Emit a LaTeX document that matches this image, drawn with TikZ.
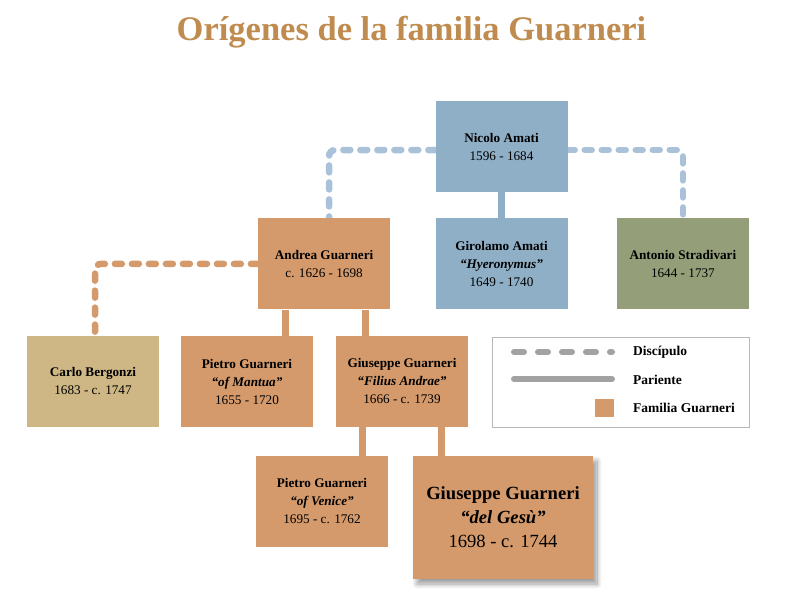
\documentclass[tikz,border=0pt]{standalone}
\usepackage{fontspec}
\setmainfont{Liberation Serif}
\usetikzlibrary{positioning,shadows.blur,backgrounds}

\definecolor{amatiblue}{HTML}{8FAFC6}
\definecolor{pupilblue}{HTML}{A9C2D9}
\definecolor{guarneriorange}{HTML}{D49A6C}
\definecolor{stradgreen}{HTML}{949E78}
\definecolor{bergonzitan}{HTML}{CEB784}
\definecolor{titlebrown}{HTML}{BF8B4E}
\definecolor{legendgray}{HTML}{A2A2A2}
\definecolor{framegray}{HTML}{B8B8B8}

\begin{document}
\begin{tikzpicture}[
    x=1pt, y=-1pt,
    box/.style={rectangle, minimum width=132pt, minimum height=91pt, align=center, inner sep=2pt, font=\fontsize{13.2}{18}\selectfont},
    amati/.style={box, fill=amatiblue},
    guarneri/.style={box, fill=guarneriorange},
    bigbox/.style={guarneri, minimum width=180pt, minimum height=123pt, font=\fontsize{18.6}{24}\selectfont,
        blur shadow={shadow xshift=4pt, shadow yshift=-5pt, shadow blur radius=5pt, shadow blur steps=10, shadow opacity=40}},
    pupil/.style={line width=6.5pt, dash pattern=on 7pt off 10pt, line cap=round, rounded corners=6pt},
    kin/.style={line width=7pt},
    legendtext/.style={anchor=west, inner sep=0pt, font=\fontsize{13.5}{15}\selectfont\bfseries},
    title/.style={font=\fontsize{34.5}{40}\selectfont\bfseries, text=titlebrown}
]
    \useasboundingbox (0,0) rectangle (800,600);

    % Title
    \node[title] (title) at (411.5,32) {Orígenes de la familia Guarneri};

    % Amati
    \node[amati] (nicolo) at (501.5,146.5) {\textbf{Nicolo Amati}\\1596 - 1684};
    \node[amati, below=26pt of nicolo] (girolamo) {\textbf{Girolamo Amati}\\\textbf{\textit{“Hyeronymus”}}\\1649 - 1740};

    % Pupils of Nicolo
    \node[guarneri, left=45pt of girolamo] (andrea) {\textbf{Andrea Guarneri}\\c. 1626 - 1698};
    \node[box, fill=stradgreen, right=49pt of girolamo] (stradivari) {\textbf{Antonio Stradivari}\\1644 - 1737};

    % Third row
    \node[box, fill=bergonzitan] (bergonzi) at (93,381.5) {\textbf{Carlo Bergonzi}\\1683 - c. 1747};
    \node[guarneri] (pietroM) at (247,381.5) {\textbf{Pietro Guarneri}\\\textbf{\textit{“of Mantua”}}\\1655 - 1720};
    \node[guarneri] (giuseppeFA) at (402,381.5) {\textbf{Giuseppe Guarneri}\\\textbf{\textit{“Filius Andrae”}}\\1666 - c. 1739};

    % Fourth row
    \node[guarneri] (pietroV) at (322,501.5) {\textbf{Pietro Guarneri}\\\textbf{\textit{“of Venice”}}\\1695 - c. 1762};
    \node[bigbox] (gesu) at (503,517.5) {\textbf{Giuseppe Guarneri}\\\textbf{\textit{“del Gesù”}}\\1698 - c. 1744};

    \begin{scope}[on background layer]
    % Disciples
    \draw[pupil, pupilblue] ([yshift=-3.5pt]nicolo.west) -| ([xshift=5pt]andrea.north);
    \draw[pupil, pupilblue] ([yshift=-3.5pt]nicolo.east) -| (stradivari.north);
    \draw[pupil, guarneriorange] (andrea.west) -| ([xshift=2pt]bergonzi.north);

    % Relatives
    \draw[kin, amatiblue] (nicolo.south) -- (girolamo.north);
    \draw[kin, guarneriorange] ([xshift=-39pt]andrea.south) -- ([xshift=-39pt]andrea.south |- pietroM.north);
    \draw[kin, guarneriorange] ([xshift=41pt]andrea.south) -- ([xshift=41pt]andrea.south |- giuseppeFA.north);
    \draw[kin, guarneriorange] ([xshift=-40pt]giuseppeFA.south) -- ([xshift=-40pt]giuseppeFA.south |- pietroV.north);
    \draw[kin, guarneriorange] ([xshift=39pt]giuseppeFA.south) -- ([xshift=39pt]giuseppeFA.south |- gesu.north);
    \end{scope}

    % Legend
    \node[draw=framegray, line width=0.8pt, minimum width=257pt, minimum height=90pt] (legend) at (620.5,382) {};
    \coordinate (pupilA) at (514,352);
    \coordinate (pupilB) at (612,352);
    \coordinate (kinA) at (514,379);
    \coordinate (kinB) at (612,379);
    \draw[line width=6pt, dash pattern=on 10pt off 14pt, line cap=round, legendgray] (pupilA) -- (pupilB);
    \draw[line width=6pt, line cap=round, legendgray] (kinA) -- (kinB);
    \node[fill=guarneriorange, minimum width=19pt, minimum height=18pt, inner sep=0pt] (famsq) at (604,408) {};
    \node[legendtext] (lblpupil) at (633,352) {Discípulo};
    \node[legendtext] (lblkin) at (633,380) {Pariente};
    \node[legendtext] (lblfam) at (633,408) {Familia Guarneri};

\end{tikzpicture}
\end{document}
